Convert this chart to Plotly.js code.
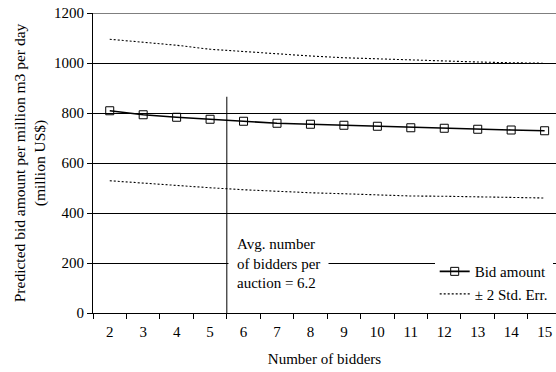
<!DOCTYPE html>
<html>
<head>
<meta charset="utf-8">
<script src="https://cdn.plot.ly/plotly-3.0.1.min.js"></script>
<style>html,body{margin:0;padding:0;background:#fff;}#chart{width:556px;height:372px;}</style>
</head>
<body>
<div id="chart"></div>
<script>
const bidders = [2,3,4,5,6,7,8,9,10,11,12,13,14,15];
const bidAmount = [809,793,783,775,767,759,755,751,747,741,739,735,732,729];
const upperSE = [1095,1083,1071,1055,1045,1036,1028,1021,1016,1012,1007,1004,1001,999];
const lowerSE = [529,519,509,501,493,486,481,477,472,468,467,465,463,460];
const avgLineX = 5.5;      // drawn position of the average-bidders marker line
const avgLineTop = 865;
const avgLabel = "Avg. number<br>of bidders per<br>auction = 6.2";
const yTicks = [0,200,400,600,800,1000,1200];
const boundaryTicks = [1.5,2.5,3.5,4.5,5.5,6.5,7.5,8.5,9.5,10.5,11.5,12.5,13.5,14.5];

const font = {family: "'Liberation Serif', 'Times New Roman', Times, serif", color: "#000"};
const f = (s) => Object.assign({size: s}, font);

const traces = [
  {x: bidders, y: bidAmount, mode: "lines+markers", name: "Bid amount",
   line: {color: "#000", width: 1.6},
   marker: {symbol: "square-open", size: 8, color: "#000", line: {width: 1}}},
  {x: bidders, y: upperSE, mode: "lines", name: "± 2 Std. Err.", line: {color: "#000", width: 1.1, dash: "2px,2px"}, showlegend: true},
  {x: bidders, y: lowerSE, mode: "lines", name: "lower", line: {color: "#000", width: 1.1, dash: "2px,2px"}, showlegend: false}
];

const layout = {
  width: 556, height: 372,
  margin: {l: 93, r: 0, t: 13, b: 59},
  paper_bgcolor: "#fff", plot_bgcolor: "#fff",
  font: f(15),
  showlegend: true,
  legend: {x: 0.738, y: 0.193, xanchor: "left", yanchor: "top", bgcolor: "#fff",
           font: f(15), tracegroupgap: 0, itemwidth: 30, traceorder: "normal"},
  xaxis: {
    range: [1.5, 15.34], tickvals: bidders, ticktext: bidders.map(String),
    ticks: "outside", ticklen: 5, tickcolor: "rgba(0,0,0,0)", showgrid: false, zeroline: false,
    showline: true, linecolor: "#000", linewidth: 1,
    minor: {tickvals: boundaryTicks, ticks: "outside", ticklen: 5, tickcolor: "#000", showgrid: false},
    tickfont: f(15),
    title: {text: "Number of bidders", font: f(15), standoff: 14}
  },
  yaxis: {
    range: [0, 1200], tickvals: yTicks, ticks: "outside", ticklen: 5, tickcolor: "#000",
    showgrid: true, gridcolor: "#000", gridwidth: 1, zeroline: false,
    showline: true, linecolor: "#000", linewidth: 1, mirror: false,
    tickfont: f(15),
    title: {text: "Predicted bid amount per million m3 per day<br>(million US$)", font: f(15.5), standoff: 4}
  },
  shapes: [
    {type: "line", xref: "x", yref: "y", x0: avgLineX, x1: avgLineX, y0: 0, y1: avgLineTop, line: {color: "#000", width: 1}},
    {type: "line", xref: "paper", yref: "y", x0: 0, x1: 1, y0: 1200, y1: 1200, line: {color: "#000", width: 1}}
  ],
  annotations: [
    {x: avgLineX, y: 200, xref: "x", yref: "y", xanchor: "left", yanchor: "middle", xshift: 1,
     text: avgLabel, align: "left", showarrow: false, bgcolor: "#fff", borderpad: 8,
     font: f(15)}
  ]
};

Plotly.newPlot("chart", traces, layout, {displayModeBar: false, staticPlot: true});
</script>
</body>
</html>
